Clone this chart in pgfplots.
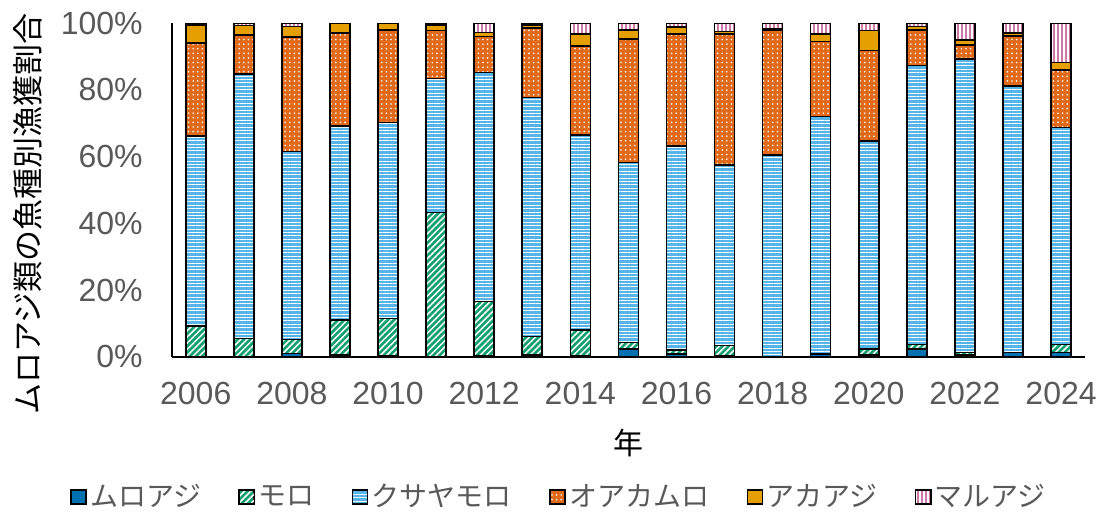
\documentclass[border=0pt]{standalone}
\usepackage{fontspec}
\setmainfont{Liberation Sans}
\newfontfamily\jp{Noto Sans CJK JP}
\usepackage{pgfplots}
\usepackage{pgfplotstable}
\pgfplotsset{compat=1.18}
\usetikzlibrary{patterns.meta}
\definecolor{cMuro}{HTML}{0070B0}
\definecolor{cMoro}{HTML}{12A070}
\definecolor{cKusa}{HTML}{56B4E9}
\definecolor{cOaka}{HTML}{E06A1A}
\definecolor{cAka}{HTML}{E69F00}
\definecolor{cMaru}{HTML}{CC79A7}
\definecolor{tgray}{HTML}{595959}

\pgfplotstableread{
year muro moro kusa oaka aka maru
2006 0   9.2  57.0 27.8 5.5 0.5
2007 0   5.5  79.3 11.7 2.8 0.7
2008 1.0 4.2  56.3 34.3 3.2 1.0
2009 0.5 10.5 58.2 27.8 3.0 0
2010 0.2 11.3 58.8 27.7 2.0 0
2011 0   43.2 40.3 14.3 1.7 0.5
2012 0.3 16.2 68.8 10.7 1.2 2.8
2013 0.5 5.5  71.8 20.7 1.0 0.5
2014 0.3 7.7  58.5 26.7 3.6 3.2
2015 2.3 2.0  54.0 36.9 2.8 2.0
2016 0.8 1.2  61.2 33.6 2.0 1.2
2017 0.3 3.0  54.2 39.3 0.7 2.5
2018 0   0    60.5 37.5 0.2 1.8
2019 0.8 0    71.2 22.5 2.3 3.2
2020 0.5 1.8  62.4 27.1 6.0 2.2
2021 2.3 1.4  83.6 10.7 1.0 1.0
2022 0.5 0.8  87.9 4.3  1.5 5.0
2023 1.2 0    80.0 15.0 0.8 3.0
2024 1.3 2.4  65.0 17.3 2.2 11.8
}\data

\begin{document}
\begin{tikzpicture}
\useasboundingbox (0,0) rectangle (552pt,259pt);
\begin{axis}[
  at={(85.85pt,80.65pt)}, anchor=south west,
  scale only axis, width=456.7pt, height=166.7pt,
  ybar stacked, bar width=10pt,
  xmin=2005.5, xmax=2024.5, ymin=0, ymax=100,
  axis x line*=bottom, axis y line*=left,
  axis line style={-, black, line width=0.9pt},
  major tick length=0pt,
  xtick={2006,2008,...,2024},
  xticklabels={2006,2008,2010,2012,2014,2016,2018,2020,2022,2024},
  ytick={0,20,...,100},
  yticklabels={0\%,20\%,40\%,60\%,80\%,100\%},
  tick label style={font=\fontsize{16}{16}\selectfont, text=tgray, inner sep=0pt},
  xticklabel style={anchor=north, yshift=-12.5pt},
  yticklabel style={anchor=east, xshift=-14.3pt},
  ylabel={ムロアジ類の魚種別漁獲割合},
  ylabel style={at={(axis description cs:-0.158,0.428)}, anchor=center, font=\jp\fontsize{15.5}{15.5}\selectfont, text=black, inner sep=0pt},
  xlabel={年},
  xlabel style={at={(axis description cs:0.5,-0.259)}, anchor=center, font=\jp\fontsize{15}{15}\selectfont, text=black, inner sep=0pt},
  legend columns=-1,
  legend style={at={(axis description cs:0.425,-0.421)}, anchor=center, draw=none, fill=none,
    font=\jp\fontsize{14}{14}\selectfont, text=tgray,
    /tikz/every even column/.append style={column sep=17pt},
    nodes={inner sep=1.8pt}},
  legend image code/.code={\draw[#1, line width=0.6pt] (0pt,-3.5pt) rectangle (7.5pt,3.5pt);},
]
\addplot[draw=black, line width=0.8pt, fill=cMuro] table[x=year,y=muro]{\data};
\addlegendentry{ムロアジ}
\addplot[draw=black, line width=0.8pt, preaction={fill=cMoro}, pattern={Lines[angle=45,distance=2.2pt,line width=0.75pt]}, pattern color=white] table[x=year,y=moro]{\data};
\addlegendentry{モロ}
\addplot[draw=black, line width=0.8pt, preaction={fill=cKusa}, pattern={Lines[angle=0,distance=1.7pt,line width=0.45pt]}, pattern color=white] table[x=year,y=kusa]{\data};
\addlegendentry{クサヤモロ}
\addplot[draw=black, line width=0.8pt, preaction={fill=cOaka}, pattern={Dots[distance=2.3pt,radius=0.45pt]}, pattern color=white] table[x=year,y=oaka]{\data};
\addlegendentry{オアカムロ}
\addplot[draw=black, line width=0.8pt, fill=cAka] table[x=year,y=aka]{\data};
\addlegendentry{アカアジ}
\addplot[draw=black, line width=0.8pt, preaction={fill=cMaru}, pattern={Lines[angle=90,distance=2pt,line width=0.6pt]}, pattern color=white] table[x=year,y=maru]{\data};
\addlegendentry{マルアジ}
\end{axis}
\end{tikzpicture}
\end{document}
